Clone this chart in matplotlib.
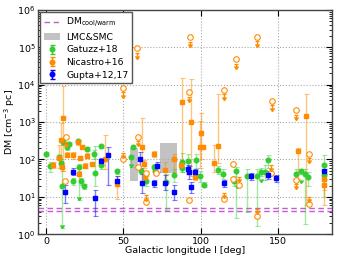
import matplotlib
matplotlib.use("Agg")
import matplotlib.pyplot as plt
import numpy as np
from matplotlib.patches import Patch
from matplotlib.lines import Line2D

# ---------------- data ----------------
# Gatuzz+18 (green): longitude, DM, lower end, upper end
gat_l  = [0.0, 2.7, 8.4, 9.5, 10.4, 11.1, 13.7, 14.7, 17.6, 20.6, 21.2, 22.5, 24.6, 26.8,
          31.1, 32.0, 35.8, 35.8, 46.1, 54.7, 56.3, 61.5, 64.7, 70.1, 70.6, 77.5, 83.0,
          87.7, 88.2, 91.6, 96.9, 99.7, 101.9, 111.3, 114.7, 122.7, 121.8, 130.2, 136.2,
          138.7, 141.3, 143.5, 161.3, 164.5, 167.7, 169.4, 179.5, 179.5]
gat_dm = [140, 68, 115, 78, 19, 300, 215, 260, 26, 316, 62, 26, 19, 190,
          140, 44, 225, 69, 49, 114, 220, 49, 27, 64, 50, 25, 39,
          58, 85, 92, 98, 37, 21, 52, 42, 49, 27, 37, 35,
          46, 46, 98, 42, 48, 41, 34, 69, 38]
gat_lo = [125, 47, 100, 60, 1.5, 250, 180, 230, 21, 290, 8, 21, 16, 170,
          100, 20, 200, 55, 42, 64, 200, 42, 20, 55, 40, 4.5, 25,
          45, 45, 45, 60, 25, 18, 40, 30, 2.7, 20, 4, 1.7,
          35, 28, 60, 30, 40, 1.9, 20, 10, 30]
gat_hi = [155, 85, 135, 100, 60, 350, 260, 290, 32, 340, 75, 32, 22, 210,
          180, 230, 250, 85, 56, 130, 240, 56, 35, 75, 60, 40, 55,
          75, 150, 140, 140, 50, 25, 65, 55, 62, 35, 55, 55,
          60, 70, 130, 55, 56, 55, 45, 130, 45]
gat_arrow_l  = [10.4, 21.2, 54.7, 123.5, 138.7, 161.3, 164.5]
gat_arrow_dm = [1.5, 8, 64, 17, 25, 23, 24]

# Nicastro+16 (orange squares)
nic_l  = [4.6, 8.4, 9.6, 11.1, 10.7, 13.3, 17.6, 20.6, 21.9, 21.2, 23.4, 25.0, 26.8, 29.8,
          38.0, 46.0, 62.2, 63.3, 64.3, 69.7, 77.0, 82.6, 87.3, 87.9, 93.7, 96.3, 99.3,
          100.2, 101.8, 108.3, 111.3, 162.8, 168.3, 179.5, 179.5]
nic_dm = [72, 110, 340, 1250, 63, 134, 134, 290, 108, 41, 215, 68, 126, 75,
          103, 22, 210, 76, 34, 140, 52, 100, 70, 3500, 980, 34, 215,
          500, 220, 82, 235, 165, 1450, 30, 21]
nic_lo = [60, 60, 90, 50, 50, 115, 100, 250, 95, 35, 190, 60, 110, 65,
          55, 9, 93, 60, 28, 115, 25, 45, 60, 69, 37, 28, 60,
          100, 200, 45, 80, 30, 6, 6, 15]
nic_hi = [85, 250, 950, 9000, 80, 155, 160, 330, 120, 48, 240, 78, 145, 85,
          460, 35, 1280, 95, 40, 165, 85, 140, 80, 15000, 14000, 40, 1100,
          1800, 240, 250, 5500, 200, 5500, 40, 28]
# Nicastro+16 limits: open circles and downward arrows
lim_l  = [12.8, 12.6, 50.0, 50.0, 59.0, 59.8, 59.8, 64.7, 64.7, 71.2, 92.9, 92.2, 92.4,
          114.8, 114.8, 123.0, 121.0, 121.0, 124.8, 136.4, 136.2, 145.8, 145.6, 161.3,
          161.3, 169.7, 169.7]
lim_dm = [390, 26, 8300, 103, 96000, 405, 64, 44, 7.3, 43, 190000, 6300, 8.2,
          7300, 8.5, 49000, 76, 30, 21, 195000, 3.0, 3650, 44, 2050,
          28, 140, 6.3]
arr_l  = [12.8, 50.0, 59.0, 59.8, 92.9, 92.2, 114.8, 123.0, 136.4, 145.8, 161.3, 169.7,
          50.0, 64.5, 114.8, 125.0, 136.2, 145.6, 169.7, 161.3]
arr_dm = [300, 6200, 70000, 310, 140000, 4800, 5500, 36000, 145000, 2800, 1550, 110,
          150, 11, 13, 34, 4.8, 69, 10, 22]

# Gupta+12,17 (blue squares)
gup_l  = [12.6, 17.6, 31.9, 35.8, 40.1, 46.1, 60.9, 62.2, 69.7, 71.8, 77.2, 82.6, 91.6,
          92.4, 93.7, 96.5, 114.8, 132.8, 143.5, 148.4, 179.5]
gup_dm = [13.5, 47, 9.2, 90, 132, 27, 100, 24, 23, 66, 23, 13.5, 55,
          47, 18, 46, 23, 36, 38, 31, 48]
gup_lo = [7, 38, 3, 70, 21, 20, 60, 13, 18, 45, 15, 8, 40,
          30, 13, 36, 18, 28, 30, 25, 40]
gup_hi = [21, 58, 15, 110, 215, 35, 160, 40, 28, 85, 38, 21, 70,
          65, 25, 56, 28, 44, 48, 38, 56]

# DM cool/warm levels and LMC&SMC boxes
dm_cool = [5.0, 4.2]
box_l0 = [54.5, 74.0]
box_l1 = [59.8, 84.5]
box_lo = [26, 43]
box_hi = [205, 270]

# ---------------- plot ----------------
plt.rcParams['font.family'] = ['DejaVu Sans']
plt.rcParams['mathtext.fontset'] = 'dejavusans'
FS = 6.8
fig = plt.figure(figsize=(3.38, 2.64), dpi=100)
ax = fig.add_axes([0.113, 0.113, 0.870, 0.849])

GREEN = '#33cc33'
ORANGE = '#ff8c00'
BLUE = '#0000ff'
PURPLE = '#c060d0'

for v in dm_cool:
    ax.axhline(v, color=PURPLE, ls='--', lw=1.0, dashes=(4, 2.5), zorder=2)

for a, b, lo, hi in zip(box_l0, box_l1, box_lo, box_hi):
    ax.fill_between([a, b], [lo, lo], [hi, hi], color='#a8a8a8', alpha=0.7, lw=0, zorder=1)

ax.errorbar(gat_l, gat_dm,
            yerr=[np.array(gat_dm, float) - np.array(gat_lo), np.array(gat_hi) - np.array(gat_dm, float)],
            fmt='none', ecolor=GREEN, elinewidth=1.0, capsize=1.8, capthick=0.8, alpha=0.45, zorder=3)
ax.plot(gat_l, gat_dm, 'o', color=GREEN, mec=GREEN, ms=3.3, zorder=4)
ax.plot(gat_arrow_l, gat_arrow_dm, marker=7, ls='none', color=GREEN, ms=2.8, zorder=4)

ax.errorbar(nic_l, nic_dm,
            yerr=[np.array(nic_dm, float) - np.array(nic_lo), np.array(nic_hi) - np.array(nic_dm, float)],
            fmt='none', ecolor=ORANGE, elinewidth=1.0, capsize=1.8, capthick=0.8, alpha=0.5, zorder=3)
ax.plot(nic_l, nic_dm, 's', color=ORANGE, mec=ORANGE, ms=3.3, zorder=4)
ax.plot(lim_l, lim_dm, 'o', mfc='white', mec=ORANGE, mew=0.8, ms=4.0, zorder=4)
arr_dm_a = np.array(arr_dm, float)
ax.vlines(arr_l, arr_dm_a * 0.72, arr_dm_a, color=ORANGE, lw=1.0, zorder=4)
ax.plot(arr_l, arr_dm_a, '_', color=ORANGE, ms=3, mew=0.9, zorder=4)
ax.plot(arr_l, arr_dm_a * 0.72, marker=7, ls='none', color=ORANGE, ms=2.8, zorder=4)

ax.errorbar(gup_l, gup_dm,
            yerr=[np.array(gup_dm, float) - np.array(gup_lo), np.array(gup_hi) - np.array(gup_dm, float)],
            fmt='none', ecolor=BLUE, elinewidth=1.0, capsize=1.8, capthick=0.8, alpha=0.5, zorder=3)
ax.plot(gup_l, gup_dm, 's', color=BLUE, mec=BLUE, ms=3.5, zorder=5)

ax.set_yscale('log')
ax.set_xlim(-5, 185)
ax.set_ylim(1, 1e6)
ax.set_xticks([0, 50, 100, 150])
ax.grid(True, which='major', color='#aaaaaa', ls=':', lw=0.8)
ax.tick_params(which='both', direction='in', top=True, right=True, labelsize=FS)
ax.tick_params(axis='x', pad=2)
ax.tick_params(axis='y', pad=2)
ax.tick_params(which='major', length=4)
ax.tick_params(which='minor', length=2)
for s in ax.spines.values():
    s.set_color('#444444')
    s.set_linewidth(1.0)
ax.set_xlabel('Galactic longitude l [deg]', fontsize=FS, labelpad=0)
ax.set_ylabel(r'DM [cm$^{-3}$ pc]', fontsize=FS, labelpad=0)

handles = [
    Line2D([], [], color=PURPLE, ls='--', lw=1.0, dashes=(4, 2.5)),
    Patch(facecolor='#a8a8a8', alpha=0.7, edgecolor='none'),
    ax.errorbar([np.nan], [np.nan], yerr=[[np.nan], [np.nan]], fmt='o', color=GREEN, ms=3.3,
                ecolor=GREEN, capsize=1.8, elinewidth=1.0),
    ax.errorbar([np.nan], [np.nan], yerr=[[np.nan], [np.nan]], fmt='o', color=ORANGE, ms=3.3,
                ecolor=ORANGE, capsize=1.8, elinewidth=1.0),
    ax.errorbar([np.nan], [np.nan], yerr=[[np.nan], [np.nan]], fmt='o', color=BLUE, ms=3.3,
                ecolor=BLUE, capsize=1.8, elinewidth=1.0),
]
labels = [r'DM$_{\rm cool/warm}$', 'LMC&SMC', 'Gatuzz+18', 'Nicastro+16', 'Gupta+12,17']
leg = ax.legend(handles, labels, loc='upper left', fontsize=6.7, fancybox=False,
                framealpha=1.0, borderaxespad=0.2, handlelength=1.7, labelspacing=0.38,
                borderpad=0.4, handletextpad=0.7)
leg.get_frame().set_edgecolor('#555555')
leg.get_frame().set_linewidth(1.0)

fig.savefig('out.png', dpi=100)
